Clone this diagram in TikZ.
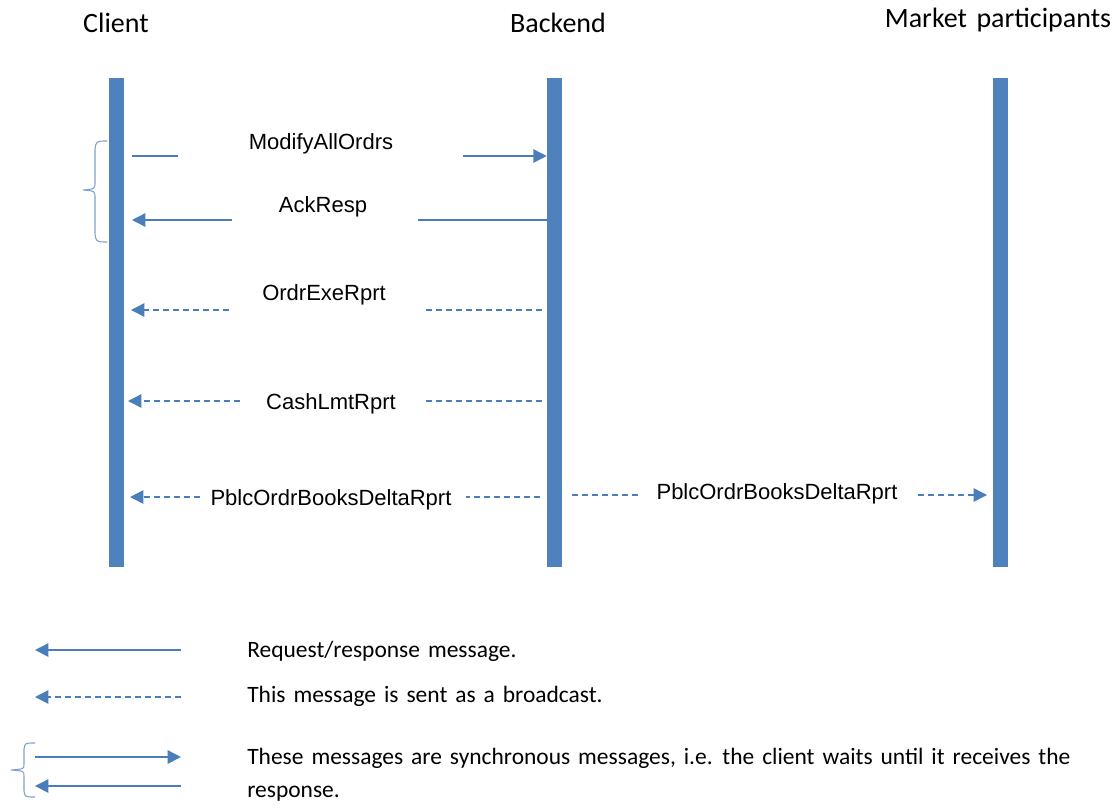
\documentclass[tikz,border=0pt]{standalone}
\usepackage{fontspec}
\setmainfont{Liberation Sans}
\newfontfamily\narrowfont{Carlito}
\newfontfamily\notefont[WordSpace=1.5]{Carlito}
\usetikzlibrary{arrows.meta,positioning}
\definecolor{barblue}{HTML}{4F81BD}
\definecolor{lineblue}{HTML}{4A7EBB}
\definecolor{braceblue}{HTML}{7F9FCF}

\begin{document}
\begin{tikzpicture}[x=0.75pt,y=-0.75pt,
  lifeline/.style={fill=barblue,minimum width=11.25pt,minimum height=366.75pt,inner sep=0pt},
  actor/.style={font=\narrowfont\fontsize{21}{25}\selectfont,inner sep=0pt},
  msglabel/.style={font=\fontsize{16.5}{20}\selectfont,inner sep=0pt},
  msg/.style={lineblue,line width=1.1pt},
  bcast/.style={msg,dash pattern=on 4.5pt off 3pt},
  arrowend/.style={-{Triangle[length=10pt,width=10pt]}},
  note/.style={font=\notefont\fontsize{17.6}{21}\selectfont,anchor=west,inner sep=0pt},
  bracket/.style={braceblue,line width=0.8pt}]

\useasboundingbox (0,0) rectangle (1116,807);

% lifelines
\node[lifeline] (client) at (116,322.5) {};
\node[lifeline] (backend) at (554.5,322.5) {};
\node[lifeline] (market) at (1000,322.5) {};
\node[actor] (clienthd) at (116,23) {Client};
\node[actor] (backendhd) at (558,23) {Backend};
\node[actor] (markethd) at (998,20) {Market participants};

% ModifyAllOrdrs
\coordinate (m1a) at (132,156);
\coordinate (m1b) at (178,156);
\coordinate (m1c) at (463,156);
\node[msglabel] (m1) at (321,144) {ModifyAllOrdrs};
\draw[msg] (m1a) -- (m1b);
\draw[msg,arrowend] (m1c) -- (backend.west |- m1c);

% AckResp
\coordinate (m2a) at (132,220);
\coordinate (m2b) at (232,220);
\coordinate (m2c) at (418,220);
\node[msglabel] (m2) at (323,207) {AckResp};
\draw[msg] (backend.west |- m2c) -- (m2c);
\draw[msg,arrowend] (m2b) -- (m2a);

% OrdrExeRprt
\coordinate (m3a) at (131,310);
\coordinate (m3b) at (229,310);
\coordinate (m3c) at (422,310);
\coordinate (m3d) at (542,310);
\node[msglabel] (m3) at (324,295) {OrdrExeRprt};
\draw[bcast] (m3d) -- (m3c);
\draw[bcast,arrowend] (m3b) -- (m3a);

% CashLmtRprt
\coordinate (m4a) at (128,401);
\coordinate (m4b) at (240,401);
\coordinate (m4c) at (425,401);
\coordinate (m4d) at (542,401);
\node[msglabel] (m4) at (331,404) {CashLmtRprt};
\draw[bcast] (m4d) -- (m4c);
\draw[bcast,arrowend] (m4b) -- (m4a);

% PblcOrdrBooksDeltaRprt
\coordinate (m5a) at (130,497);
\coordinate (m5b) at (200,497);
\coordinate (m5c) at (466,497);
\coordinate (m5d) at (540,497);
\node[msglabel] (m5) at (331,500) {PblcOrdrBooksDeltaRprt};
\draw[bcast] (m5d) -- (m5c);
\draw[bcast,arrowend] (m5b) -- (m5a);

\coordinate (m6a) at (572,495);
\coordinate (m6b) at (640,495);
\coordinate (m6c) at (918,495);
\coordinate (m6d) at (987,495);
\node[msglabel] (m6) at (777,494) {PblcOrdrBooksDeltaRprt};
\draw[bcast] (m6a) -- (m6b);
\draw[bcast,arrowend] (m6c) -- (m6d);

% synchronous bracket
\draw[bracket] (107,141) .. controls (96,141) .. (95,150) -- (95,182)
  .. controls (95,189) .. (83,190) .. controls (95,191) .. (95,198)
  -- (95,233) .. controls (96,242) .. (107,242);

% legend
\coordinate (l1a) at (35,650);
\coordinate (l1b) at (181,650);
\draw[msg,arrowend] (l1b) -- (l1a);
\node[note] (l1) at (247,651) {Request/response message.};

\coordinate (l2a) at (35,697);
\coordinate (l2b) at (181,697);
\draw[bcast,arrowend] (l2b) -- (l2a);
\node[note] (l2) at (247,696) {This message is sent as a broadcast.};

\coordinate (l3a) at (35,757);
\coordinate (l3b) at (181,757);
\coordinate (l3c) at (35,786);
\coordinate (l3d) at (181,786);
\draw[msg,arrowend] (l3a) -- (l3b);
\draw[msg,arrowend] (l3d) -- (l3c);
\draw[bracket] (35,743) .. controls (25,743) .. (24,749) -- (24,764)
  .. controls (24,769) .. (11,770) .. controls (24,771) .. (24,776)
  -- (24,791) .. controls (25,797) .. (35,797);
\node[note] (l3) at (247,758) {These messages are synchronous messages, i.e. the client waits until it receives the};
\node[note] (l4) at (247,794) {response.};

\end{tikzpicture}
\end{document}
